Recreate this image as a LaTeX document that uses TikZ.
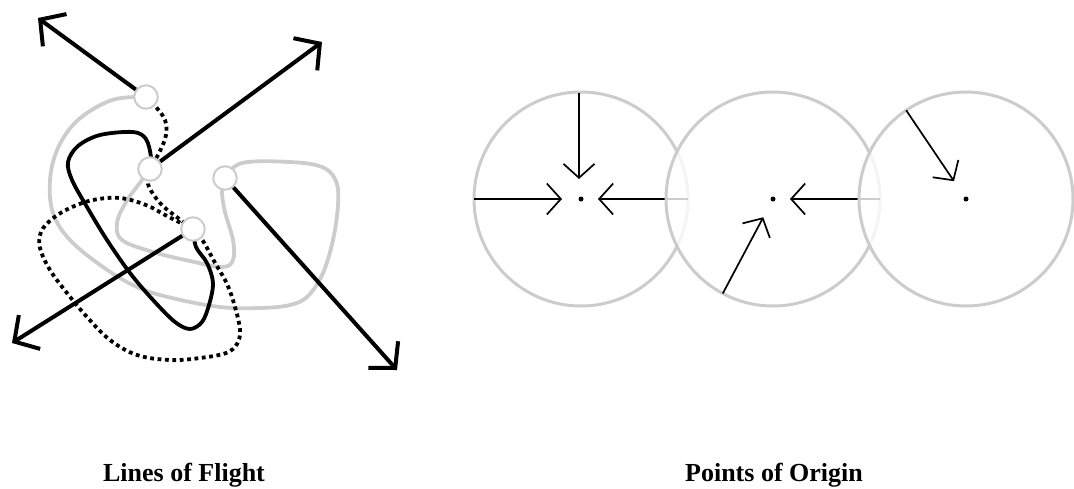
\documentclass[tikz,border=0pt]{standalone}
\usepackage{fontspec}
\setmainfont{Liberation Serif}
\usetikzlibrary{arrows.meta,calc}
\definecolor{softgray}{RGB}{204,204,204}
\tikzset{
  strand/.style={line width=3.8pt, line join=round, line cap=butt},
  graystrand/.style={strand, draw=softgray},
  blackstrand/.style={strand, draw=black},
  dotstrand/.style={strand, draw=black, dash pattern=on 3.8pt off 3.6pt},
  knot/.style={circle, draw=softgray, line width=2pt, fill=white,
    minimum size=23.5pt, inner sep=0pt},
  flight/.style={line width=4pt, -{Straight Barb[length=18pt,width=40pt]}},
  field/.style={circle, draw=softgray, line width=3pt, minimum size=214pt,
    inner sep=0pt, outer sep=0pt},
  veil/.style={fill=white, fill opacity=0.8},
  pull/.style={line width=1.7pt, -{Straight Barb[length=14pt,width=31pt]}},
  origin/.style={circle, fill=black, minimum size=5pt, inner sep=0pt},
  caption/.style={font=\bfseries\fontsize{26}{31}\selectfont, anchor=base},
}
\begin{document}
\begin{tikzpicture}[x=1pt,y=-1pt]
\useasboundingbox (0,0) rectangle (1074,488);

% ---------- Lines of Flight ----------
\coordinate (p1) at (146,97);
\coordinate (p2) at (150,169);
\coordinate (p3) at (225,178);
\coordinate (p4) at (193,229);

% gray strands
\draw[graystrand] plot[smooth, tension=0.6] coordinates {
  (p1) (112,100) (78,120) (58,148) (50,180) (53,213) (70,240) (103,267)
  (137,287) (172,298) (220,307) (260,308) (290,305) (308,296) (323,273)
  (333,240) (338,205) (336,181) (322,167) (290,162) (242,163) (p3)};
\draw[graystrand] plot[smooth, tension=0.6] coordinates {
  (p2) (139,184) (126,202) (117,223) (122,240) (153,252) (190,261)
  (222,267) (233,260) (233,240) (225,212) (222,192) (p3)};

% black strand
\draw[blackstrand] plot[smooth, tension=0.55] coordinates {
  (p2) (151,157) (146,139) (133,132) (100,135) (78,146) (68,162) (72,180)
  (87,207) (107,240) (130,273) (153,300) (175,322) (190,329) (202,322)
  (209,305) (213,283) (207,263) (196,247) (p4)};

% dotted strands
\draw[dotstrand] plot[smooth, tension=0.6] coordinates {
  (p1) (156,107) (165,120) (166,135) (160,151) (p2)};
\draw[dotstrand] plot[smooth, tension=0.6] coordinates {
  (p2) (148,184) (160,203) (178,218) (p4)};
\draw[dotstrand] plot[smooth, tension=0.6] coordinates {
  (p4) (203,241) (214,261) (227,284) (235,307) (240,330) (237,344)
  (226,353) (200,358) (170,360) (137,355) (110,340) (87,317) (67,293)
  (50,270) (40,248) (41,232) (52,219) (70,208) (93,200) (120,198)
  (146,205) (167,216) (p4)};

% junctions
\node[knot] (k1) at (p1) {};
\node[knot] (k2) at (p2) {};
\node[knot] (k3) at (p3) {};
\node[knot] (k4) at (p4) {};

% escaping arrows
\coordinate (f1) at (38,18);
\coordinate (f2) at (322,42);
\coordinate (f3) at (397,370);
\coordinate (f4) at (12,343);
\draw[flight] (k1) -- (f1);
\draw[flight] (k2) -- (f2);
\draw[flight] (k3) -- (f3);
\draw[flight] (k4) -- (f4);

\node[caption] (cap1) at (184,481) {Lines of Flight};

% ---------- Points of Origin ----------
\node[field] (c1) at (581,199) {};
\coordinate (t1w) at ($(c1.center)+(-19,0)$);
\coordinate (t1n) at ($(c1.center)+(-2,-20)$);
\coordinate (t1e) at ($(c1.center)+(17,0)$);
\coordinate (s1n) at ($(c1.center)+(-2,-106)$);
\draw[pull] (c1.west) -- (t1w);
\draw[pull] (s1n) -- (t1n);
\draw[pull] (c1.east) -- (t1e);
\node[origin] (o1) at (c1.center) {};

\node[field, veil] (c2) at (773,199) {};
\coordinate (t2e) at ($(c2.center)+(17,0)$);
\coordinate (t2s) at ($(c2.center)+(118:20.7)$);
\coordinate (s2s) at ($(c2.center)+(118:107)$);
\draw[pull] (c2.east) -- (t2e);
\draw[pull] (s2s) -- (t2s);
\node[origin] (o2) at (c2.center) {};

\node[field, veil] (c3) at (966,199) {};
\coordinate (t3n) at ($(c3.center)+(236:21.5)$);
\coordinate (s3n) at ($(c3.center)+(236:107)$);
\draw[pull] (s3n) -- (t3n);
\node[origin] (o3) at (c3.center) {};

\node[caption] (cap2) at (774,481) {Points of Origin};
\end{tikzpicture}
\end{document}
